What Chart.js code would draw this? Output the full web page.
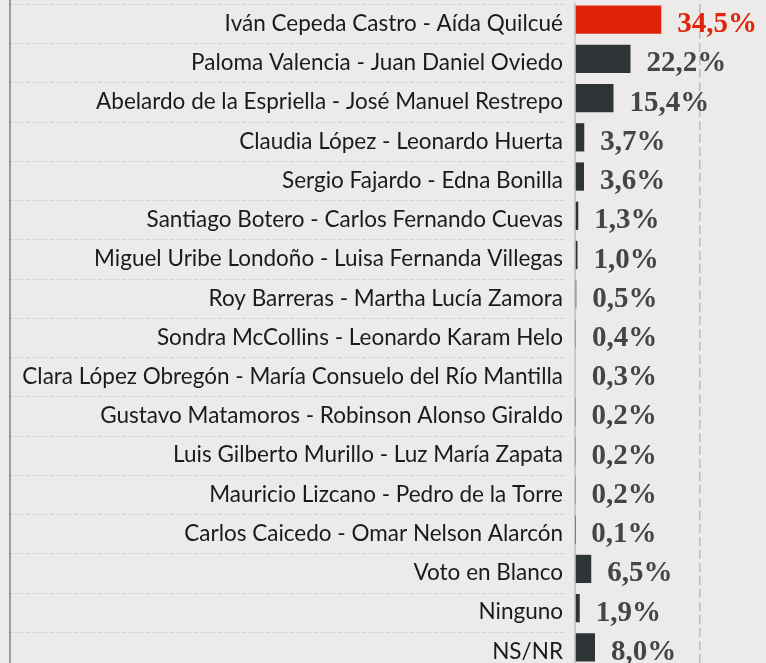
<!DOCTYPE html>
<html>
<head>
<meta charset="utf-8">
<script src="https://cdn.jsdelivr.net/npm/chart.js@4.4.0/dist/chart.umd.min.js"></script>
<style>
  html, body { margin: 0; padding: 0; background: #ecebea; overflow: hidden; }
  #wrap { position: relative; width: 766px; height: 671px; }
  #wrap:before { content: ''; position: absolute; left: 9px; top: 0; bottom: 0; width: 2px; background: #9d9d9d; }
</style>
</head>
<body>
<div id="wrap"><canvas id="Chart" width="766" height="671"></canvas></div>
<script>
// candidates (fórmulas) and their share
const formulas = [
  'Iván Cepeda Castro - Aída Quilcué',
  'Paloma Valencia - Juan Daniel Oviedo',
  'Abelardo de la Espriella - José Manuel Restrepo',
  'Claudia López - Leonardo Huerta',
  'Sergio Fajardo - Edna Bonilla',
  'Santiago Botero - Carlos Fernando Cuevas',
  'Miguel Uribe Londoño - Luisa Fernanda Villegas',
  'Roy Barreras - Martha Lucía Zamora',
  'Sondra McCollins - Leonardo Karam Helo',
  'Clara López Obregón - María Consuelo del Río Mantilla',
  'Gustavo Matamoros - Robinson Alonso Giraldo',
  'Luis Gilberto Murillo - Luz María Zapata',
  'Mauricio Lizcano - Pedro de la Torre',
  'Carlos Caicedo - Omar Nelson Alarcón',
  'Voto en Blanco',
  'Ninguno',
  'NS/NR'
];
const shares = [34.5, 22.2, 15.4, 3.7, 3.6, 1.3, 1.0, 0.5, 0.4, 0.3, 0.2, 0.2, 0.2, 0.1, 6.5, 1.9, 8.0];
const leader = 0;

const RED = '#e0230b';
const DARK = '#2e3335';

const barColors = shares.map((v, i) => i === leader ? RED : DARK);

// dashed separators that run through the label column only
const rowLines = {
  id: 'rowLines',
  afterDraw(chart) {
    const y = chart.scales.y;
    const ctx = chart.ctx;
    const band = y.getPixelForValue(1) - y.getPixelForValue(0);
    ctx.save();
    ctx.strokeStyle = '#d2d2d2';
    ctx.lineWidth = 1;
    ctx.setLineDash([4, 2]);
    for (let i = 0; i <= formulas.length; i++) {
      const py = Math.round(y.getPixelForValue(i) - band / 2) + 0.5;
      ctx.beginPath();
      ctx.moveTo(8, py);
      ctx.lineTo(565, py);
      ctx.stroke();
    }
    ctx.restore();
  }
};

// bars sit a little above the row centre; value labels after each bar
const barLabels = {
  id: 'barLabels',
  beforeDatasetsDraw(chart) {
    chart.ctx.save();
    chart.ctx.translate(0, -4);
  },
  afterDatasetsDraw(chart) {
    const ctx = chart.ctx;
    ctx.restore();
    const meta = chart.getDatasetMeta(0);
    ctx.save();
    ctx.font = 'bold 29px "Liberation Serif", serif';
    ctx.textBaseline = 'middle';
    ctx.textAlign = 'left';
    meta.data.forEach((bar, i) => {
      ctx.fillStyle = i === leader ? RED : '#454545';
      const txt = shares[i].toFixed(1).replace('.', ',') + '%';
      ctx.fillText(txt, bar.x + 16, bar.y + 1);
    });
    ctx.restore();
  }
};

const chart = new Chart(document.getElementById('Chart'), {
  type: 'bar',
  data: {
    labels: formulas,
    datasets: [{
      data: shares,
      backgroundColor: barColors,
      barPercentage: 0.72,
      categoryPercentage: 1
    }]
  },
  options: {
    indexAxis: 'y',
    responsive: false,
    animation: false,
    layout: { padding: { top: 4, left: 0, right: 0, bottom: 0 } },
    plugins: { legend: { display: false }, tooltip: { enabled: false } },
    scales: {
      x: {
        min: 0,
        max: 76.4,
        afterFit: s => { s.height = 0; s.paddingLeft = 0; s.paddingRight = 0; },
        ticks: { display: false, stepSize: 50 },
        grid: {
          drawTicks: false,
          lineWidth: 1.5,
          color: ctx => ctx.tick && ctx.tick.value === 50 ? '#bcbcbc' : 'transparent'
        },
        border: { display: false, dash: [9, 4] }
      },
      y: {
        afterFit: s => { s.width = 575; s.paddingTop = 0; s.paddingBottom = 0; },
        ticks: {
          padding: 12,
          color: '#1b1b1b',
          font: { family: 'Lato', size: 22.5 }
        },
        grid: { display: false, drawTicks: false },
        border: { display: true, color: '#c9c9c9', width: 2 }
      }
    }
  },
  plugins: [rowLines, barLabels]
});
</script>
</body>
</html>
